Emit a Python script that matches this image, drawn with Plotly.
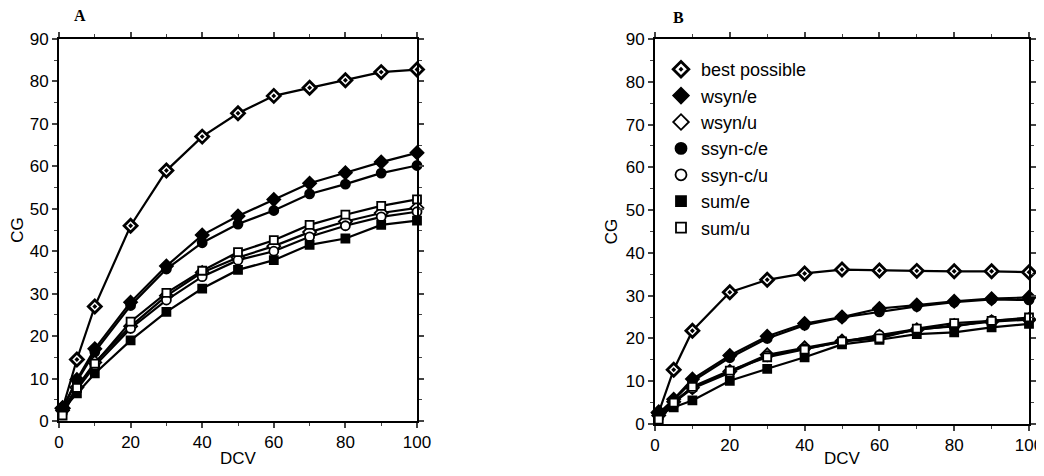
import plotly.graph_objects as go

dcv = [1, 5, 10, 20, 30, 40, 50, 60, 70, 80, 90, 100]

names = ["best possible", "wsyn/e", "wsyn/u", "ssyn-c/e", "ssyn-c/u", "sum/e", "sum/u"]

# Panel A
a_best = [3, 14.5, 27, 46, 59, 67, 72.5, 76.6, 78.5, 80.3, 82.2, 82.8]
a_wsyn_e = [3, 9.8, 17, 28, 36.5, 43.8, 48.3, 52.2, 56, 58.5, 61, 63.2]
a_wsyn_u = [2.5, 7.9, 13.8, 22.3, 29.5, 35.0, 38.5, 41.2, 44.5, 47, 49, 50.2]
a_ssyn_e = [3, 9.4, 16.3, 27.2, 35.8, 42, 46.4, 49.6, 53.5, 55.8, 58.4, 60.2]
a_ssyn_u = [2.5, 7.4, 13, 21.8, 28.5, 34.0, 37.9, 40, 43.4, 46, 48.1, 49.3]
a_sum_e = [2.5, 6.5, 11.2, 19, 25.7, 31.2, 35.6, 37.9, 41.5, 43, 46.2, 47.2]
a_sum_u = [1.3, 7.8, 13.5, 23.4, 30.2, 35.4, 39.8, 42.6, 46.2, 48.6, 50.7, 52.2]

# Panel B
b_best = [2.7, 12.7, 21.8, 30.8, 33.7, 35.2, 36.1, 35.9, 35.8, 35.7, 35.7, 35.5]
b_wsyn_e = [2.5, 5.8, 10.5, 16, 20.5, 23.5, 25, 27, 27.8, 28.7, 29.3, 29.6]
b_wsyn_u = [2, 5.2, 8.5, 12.3, 16.2, 17.8, 19.4, 20.5, 22.0, 23.0, 23.9, 24.4]
b_ssyn_e = [2.3, 5.6, 10.0, 15.5, 20, 23.1, 24.9, 26.2, 27.5, 28.5, 29.1, 29.0]
b_ssyn_u = [2, 5, 8.3, 12, 16, 17.6, 19.3, 20.8, 22.2, 22.8, 24.2, 24.6]
b_sum_e = [2, 3.9, 5.5, 10.1, 12.9, 15.6, 18.6, 19.7, 21, 21.4, 22.6, 23.4]
b_sum_u = [1, 5, 8.7, 12.5, 15.6, 17.4, 19.3, 20, 22.3, 23.6, 24.1, 24.9]

panel_a = [a_best, a_wsyn_e, a_wsyn_u, a_ssyn_e, a_ssyn_u, a_sum_e, a_sum_u]
panel_b = [b_best, b_wsyn_e, b_wsyn_u, b_ssyn_e, b_ssyn_u, b_sum_e, b_sum_u]

styles = [
    dict(symbol="diamond-dot", color="white", size=10, lw=2.8),
    dict(symbol="diamond", color="black", size=10, lw=1.8),
    dict(symbol="diamond", color="white", size=10, lw=1.8),
    dict(symbol="circle", color="black", size=9, lw=1.8),
    dict(symbol="circle", color="white", size=9, lw=1.8),
    dict(symbol="square", color="black", size=8, lw=1.8),
    dict(symbol="square", color="white", size=8, lw=1.8),
]

fig = go.Figure()

for series, xa, ya in [(panel_a, "x", "y"), (panel_b, "x2", "y2")]:
    for name, vals, st in zip(names, series, styles):
        fig.add_trace(go.Scatter(
            x=dcv, y=vals, name=name, mode="lines+markers",
            xaxis=xa, yaxis=ya, showlegend=False,
            cliponaxis=False,
            line=dict(color="black", width=2.2),
            marker=dict(symbol=st["symbol"], color=st["color"], size=st["size"],
                        line=dict(color="black", width=st["lw"])),
        ))

# legend entries: markers only, as in the original key
for name, st in zip(names, styles):
    fig.add_trace(go.Scatter(
        x=[None], y=[None], name=name, mode="markers", xaxis="x2", yaxis="y2",
        showlegend=True,
        marker=dict(symbol=st["symbol"], color=st["color"], size=st["size"] + 2,
                    line=dict(color="black", width=st["lw"])),
    ))

# page body has an 8px margin, so figure coords = screen coords - 8
W, H = 1036, 460
font = "Liberation Sans, Arial, sans-serif"

def xax(domain, anchor):
    return dict(domain=domain, anchor=anchor, range=[0, 100], tickvals=[0, 20, 40, 60, 80, 100],
                ticks="outside", ticklen=5, tickwidth=1.5, showline=True, linecolor="black",
                linewidth=2, mirror="ticks", showgrid=False, zeroline=False, automargin=False,
                ticklabeloverflow="allow",
                minor=dict(tickvals=[10, 30, 50, 70, 90], ticks="outside", ticklen=3, tickwidth=1),
                tickfont=dict(family=font, size=17, color="black"),
                title=dict(text="DCV", font=dict(family=font, size=17, color="black"), standoff=4))

def yax(domain, anchor):
    return dict(domain=domain, anchor=anchor, range=[0, 90], dtick=10,
                ticks="outside", ticklen=5, tickwidth=1.5, showline=True, linecolor="black",
                linewidth=2, mirror="ticks", showgrid=False, zeroline=False, automargin=False,
                minor=dict(dtick=5, ticks="outside", ticklen=3, tickwidth=1),
                tickfont=dict(family=font, size=17, color="black"),
                title=dict(text="CG", font=dict(family=font, size=17, color="black"), standoff=4))

fig.update_layout(
    width=W, height=H,
    margin=dict(l=0, r=0, t=0, b=0, autoexpand=False),
    paper_bgcolor="white", plot_bgcolor="white",
    xaxis=xax([51 / W, 409 / W], "y"),
    yaxis=yax([1 - 413 / H, 1 - 31 / H], "x"),
    xaxis2=xax([647 / W, 1021 / W], "y2"),
    yaxis2=yax([1 - 416 / H, 1 - 31 / H], "x2"),
    legend=dict(x=653 / W, y=1 - 43 / H, xanchor="left", yanchor="top",
                bgcolor="rgba(0,0,0,0)", tracegroupgap=0,
                font=dict(family=font, size=18, color="black")),
    annotations=[
        dict(text="<b>A</b>", x=72 / W, y=1 - 7 / H, xref="paper", yref="paper",
             xanchor="center", yanchor="middle",
             showarrow=False, font=dict(family="Liberation Serif, serif", size=16, color="black")),
        dict(text="<b>B</b>", x=670 / W, y=1 - 9 / H, xref="paper", yref="paper",
             xanchor="center", yanchor="middle",
             showarrow=False, font=dict(family="Liberation Serif, serif", size=16, color="black")),
    ],
)

fig.write_html("out.html")
